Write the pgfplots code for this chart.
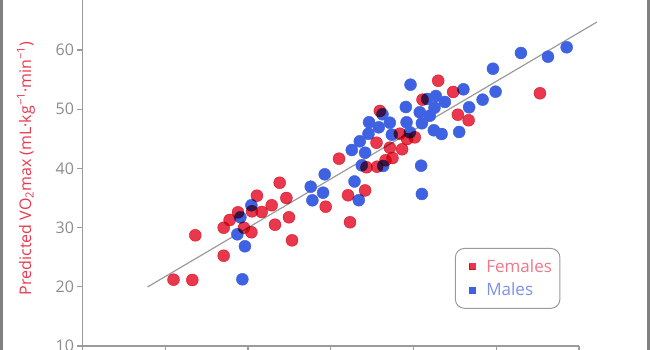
\documentclass[border=0pt]{standalone}
\usepackage{pgfplots}
\pgfplotsset{compat=1.18}
\usepackage{fontspec}
\setmainfont{Open Sans}
\definecolor{fem}{RGB}{233,56,78}
\definecolor{mal}{RGB}{62,98,226}
\definecolor{femtxt}{RGB}{238,120,138}
\definecolor{maltxt}{RGB}{125,145,232}
\definecolor{axgray}{RGB}{155,155,155}
\definecolor{ticktxt}{RGB}{140,140,140}
\definecolor{framegray}{RGB}{128,128,128}
\begin{document}
\begin{tikzpicture}
\begin{axis}[
  at={(0,0)}, anchor=south west,
  scale only axis, width=496.5pt, height=355.2pt,
  xmin=10, xmax=70, ymin=10, ymax=70,
  axis x line*=bottom, axis y line*=left,
  axis line style={axgray, line width=1.2pt},
  xtick={10,20,...,70}, ytick={10,20,...,60},
  xticklabels={},
  tick align=outside, major tick length=5pt,
  tick style={axgray, line width=1.2pt},
  yticklabel style={font=\fontsize{16}{16}\selectfont, text=ticktxt},
  /pgf/number format/assume math mode=true,
  ylabel={Predicted VO\textsubscript{2}max (mL·kg\textsuperscript{−1}·min\textsuperscript{−1})},
  ylabel style={at={(axis description cs:-0.114,0.5)}, anchor=center, font=\fontsize{16}{16}\selectfont, text=fem},
  clip=false,
  reverse legend,
  legend style={at={(axis description cs:0.75,0.276)}, anchor=north west, draw=axgray, rounded corners=9pt, line width=1pt, font=\fontsize{17}{17}\selectfont, row sep=5pt, inner xsep=6pt, inner ysep=9pt, cells={anchor=west}},
  legend image code/.code={\pgfpathrectangle{\pgfpoint{0pt}{-3pt}}{\pgfpoint{23pt}{6pt}}\pgfusepath{use as bounding box}\draw[#1, mark=square*, mark size=3pt, mark repeat=2, mark phase=2] plot coordinates {(0pt,0pt) (11pt,0pt) (23pt,0pt)};},
]
\addplot[axgray, line width=1.2pt, forget plot] coordinates {(17.86,19.97) (72.17,64.73)};
\addplot[only marks, mark=*, mark size=6pt, color=mal, mark options={draw=none, fill=mal}] coordinates {
(29.32,21.27) (29.63,26.84) (28.71,28.87) (29.08,31.74) (30.41,33.77)
(37.58,36.91) (39.07,35.90) (37.78,34.61) (39.27,39.00) (42.87,37.79)
(43.39,34.63) (43.75,40.52) (46.33,40.41) (42.54,43.11) (44.15,42.65)
(43.51,44.58) (44.56,45.86) (44.63,47.79) (45.80,46.94) (46.25,49.14)
(47.14,47.72) (47.38,45.69) (49.07,50.37) (49.16,47.79) (49.56,46.10)
(49.64,54.14) (50.76,49.48) (51.01,47.62) (51.65,51.72) (51.97,48.90)
(52.54,50.25) (52.70,52.23) (52.46,46.44) (53.39,45.81) (53.79,51.22)
(50.92,40.46) (51.01,35.68) (55.52,46.15) (56.03,53.36) (56.72,50.32)
(58.35,51.61) (59.60,56.84) (59.92,52.96) (62.98,59.49) (66.25,58.87)
(68.51,60.46)
};
\addlegendentry{\textcolor{maltxt}{Males}}
\addplot[only marks, mark=*, mark size=6pt, color=fem, mark options={draw=none, fill=fem, blend mode=multiply}] coordinates {
(21.00,21.20) (23.27,21.15) (23.63,28.70) (27.06,25.25) (27.06,29.98)
(27.78,31.28) (28.79,32.58) (29.51,29.98) (30.41,29.21) (30.48,32.75)
(31.08,35.39) (31.65,32.64) (32.86,33.77) (33.26,30.49) (33.83,37.58)
(34.64,35.00) (34.95,31.74) (35.32,27.85) (39.39,33.53) (41.00,41.64)
(42.09,35.46) (42.33,30.90) (44.15,36.28) (44.32,40.19) (45.60,40.29)
(45.53,44.34) (45.93,49.70) (46.62,41.37) (47.46,41.76) (47.14,43.50)
(48.35,45.86) (48.62,43.23) (49.23,44.97) (50.16,45.25) (51.09,51.61)
(52.98,54.81) (54.79,52.91) (55.36,49.07) (56.66,48.13) (65.28,52.69)
};
\addlegendentry{\textcolor{femtxt}{Females}}
\end{axis}
\fill[framegray] (-82.5pt,-4pt) rectangle (-79.5pt,346pt);
\fill[framegray] (564.5pt,-4pt) rectangle (567.5pt,346pt);
\pgfresetboundingbox
\useasboundingbox (-82.5pt,-4pt) rectangle (567.5pt,346pt);
\end{tikzpicture}
\end{document}
